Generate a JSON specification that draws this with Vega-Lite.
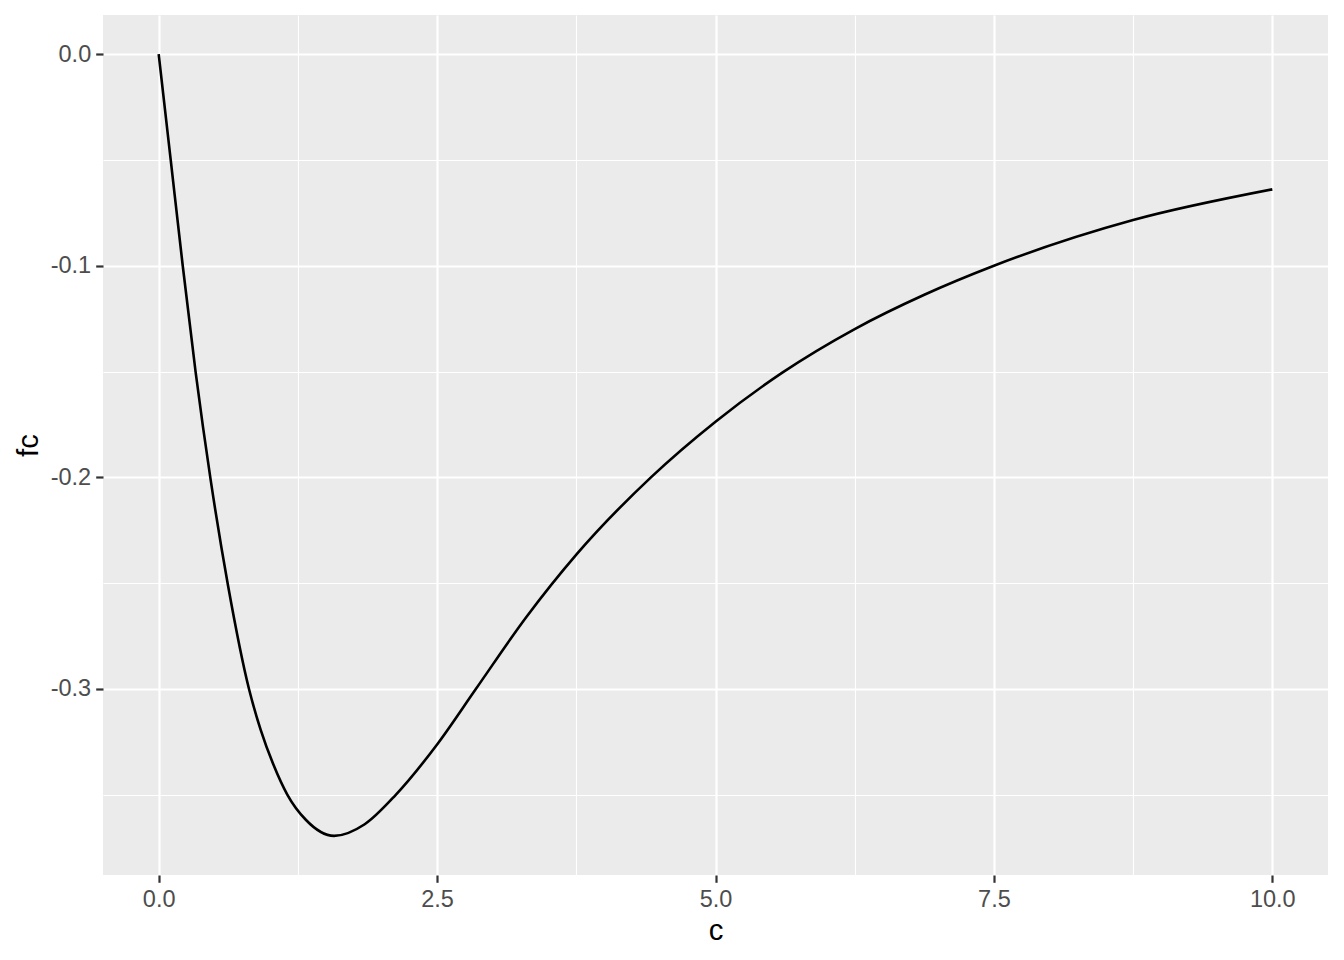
{
  "$schema": "https://vega.github.io/schema/vega-lite/v6.json",
  "width": 1225,
  "height": 860,
  "autosize": {"type": "none"},
  "padding": {"left": 103, "top": 15, "right": 16, "bottom": 85},
  "background": "white",
  "config": {
    "view": {"fill": "#EBEBEB", "stroke": null},
    "font": "Liberation Sans"
  },
  "data": {
    "values": [
      {"c": 0, "fc": 0},
      {"c": 0.108, "fc": -0.05},
      {"c": 0.216, "fc": -0.1},
      {"c": 0.332, "fc": -0.1504},
      {"c": 0.467, "fc": -0.2013},
      {"c": 0.623, "fc": -0.2512},
      {"c": 0.811, "fc": -0.3},
      {"c": 0.916, "fc": -0.3193},
      {"c": 1.03, "fc": -0.3357},
      {"c": 1.156, "fc": -0.35},
      {"c": 1.321, "fc": -0.3618},
      {"c": 1.575, "fc": -0.3694},
      {"c": 1.85, "fc": -0.3639},
      {"c": 2.129, "fc": -0.35},
      {"c": 2.5, "fc": -0.3262},
      {"c": 2.848, "fc": -0.3},
      {"c": 3.3, "fc": -0.2661},
      {"c": 3.75, "fc": -0.2365},
      {"c": 4.42, "fc": -0.2},
      {"c": 5.0, "fc": -0.1737},
      {"c": 5.6, "fc": -0.1505},
      {"c": 6.25, "fc": -0.1299},
      {"c": 6.875, "fc": -0.1137},
      {"c": 7.5, "fc": -0.1},
      {"c": 8.75, "fc": -0.0784},
      {"c": 10, "fc": -0.0639}
    ]
  },
  "mark": {"type": "line", "color": "black", "strokeWidth": 2.6, "interpolate": "monotone"},
  "encoding": {
    "x": {
      "field": "c",
      "type": "quantitative",
      "scale": {"domain": [-0.5, 10.5], "nice": false, "zero": false},
      "axis": {
        "title": "c",
        "values": [0, 1.25, 2.5, 3.75, 5, 6.25, 7.5, 8.75, 10],
        "grid": true,
        "gridColor": "white",
        "gridWidth": {"condition": {"test": "datum.value % 2.5 === 0", "value": 2.2}, "value": 1.1},
        "domain": false,
        "tickSize": 7.3,
        "tickWidth": 2.2,
        "tickColor": {"condition": {"test": "datum.value % 2.5 === 0", "value": "#333333"}, "value": "transparent"},
        "labelExpr": "datum.value % 2.5 === 0 ? format(datum.value, '.1f') : ''",
        "labelOverlap": false,
        "labelFlush": false,
        "labelFont": "Liberation Sans",
        "labelFontSize": 23.5,
        "labelColor": "#4D4D4D",
        "labelPadding": 5,
        "titleFont": "Liberation Sans",
        "titleFontSize": 29.3,
        "titleFontWeight": "normal",
        "titleColor": "black",
        "titlePadding": 6
      }
    },
    "y": {
      "field": "fc",
      "type": "quantitative",
      "scale": {"domain": [-0.3879, 0.0185], "nice": false, "zero": false},
      "axis": {
        "title": "fc",
        "values": [-0.35, -0.3, -0.25, -0.2, -0.15, -0.1, -0.05, 0],
        "grid": true,
        "gridColor": "white",
        "gridWidth": {"condition": {"test": "abs(round(datum.value*20)) % 2 === 0", "value": 2.2}, "value": 1.1},
        "domain": false,
        "tickSize": 7.3,
        "tickWidth": 2.2,
        "tickColor": {"condition": {"test": "abs(round(datum.value*20)) % 2 === 0", "value": "#333333"}, "value": "transparent"},
        "labelExpr": "abs(round(datum.value*20)) % 2 === 0 ? ((datum.value < -0.001 ? '-' : '') + format(abs(datum.value), '.1f')) : ''",
        "labelOverlap": false,
        "labelFlush": false,
        "labelFont": "Liberation Sans",
        "labelFontSize": 23.5,
        "labelColor": "#4D4D4D",
        "labelPadding": 5,
        "titleFont": "Liberation Sans",
        "titleFontSize": 29.3,
        "titleFontWeight": "normal",
        "titleColor": "black",
        "titlePadding": 7
      }
    }
  }
}
